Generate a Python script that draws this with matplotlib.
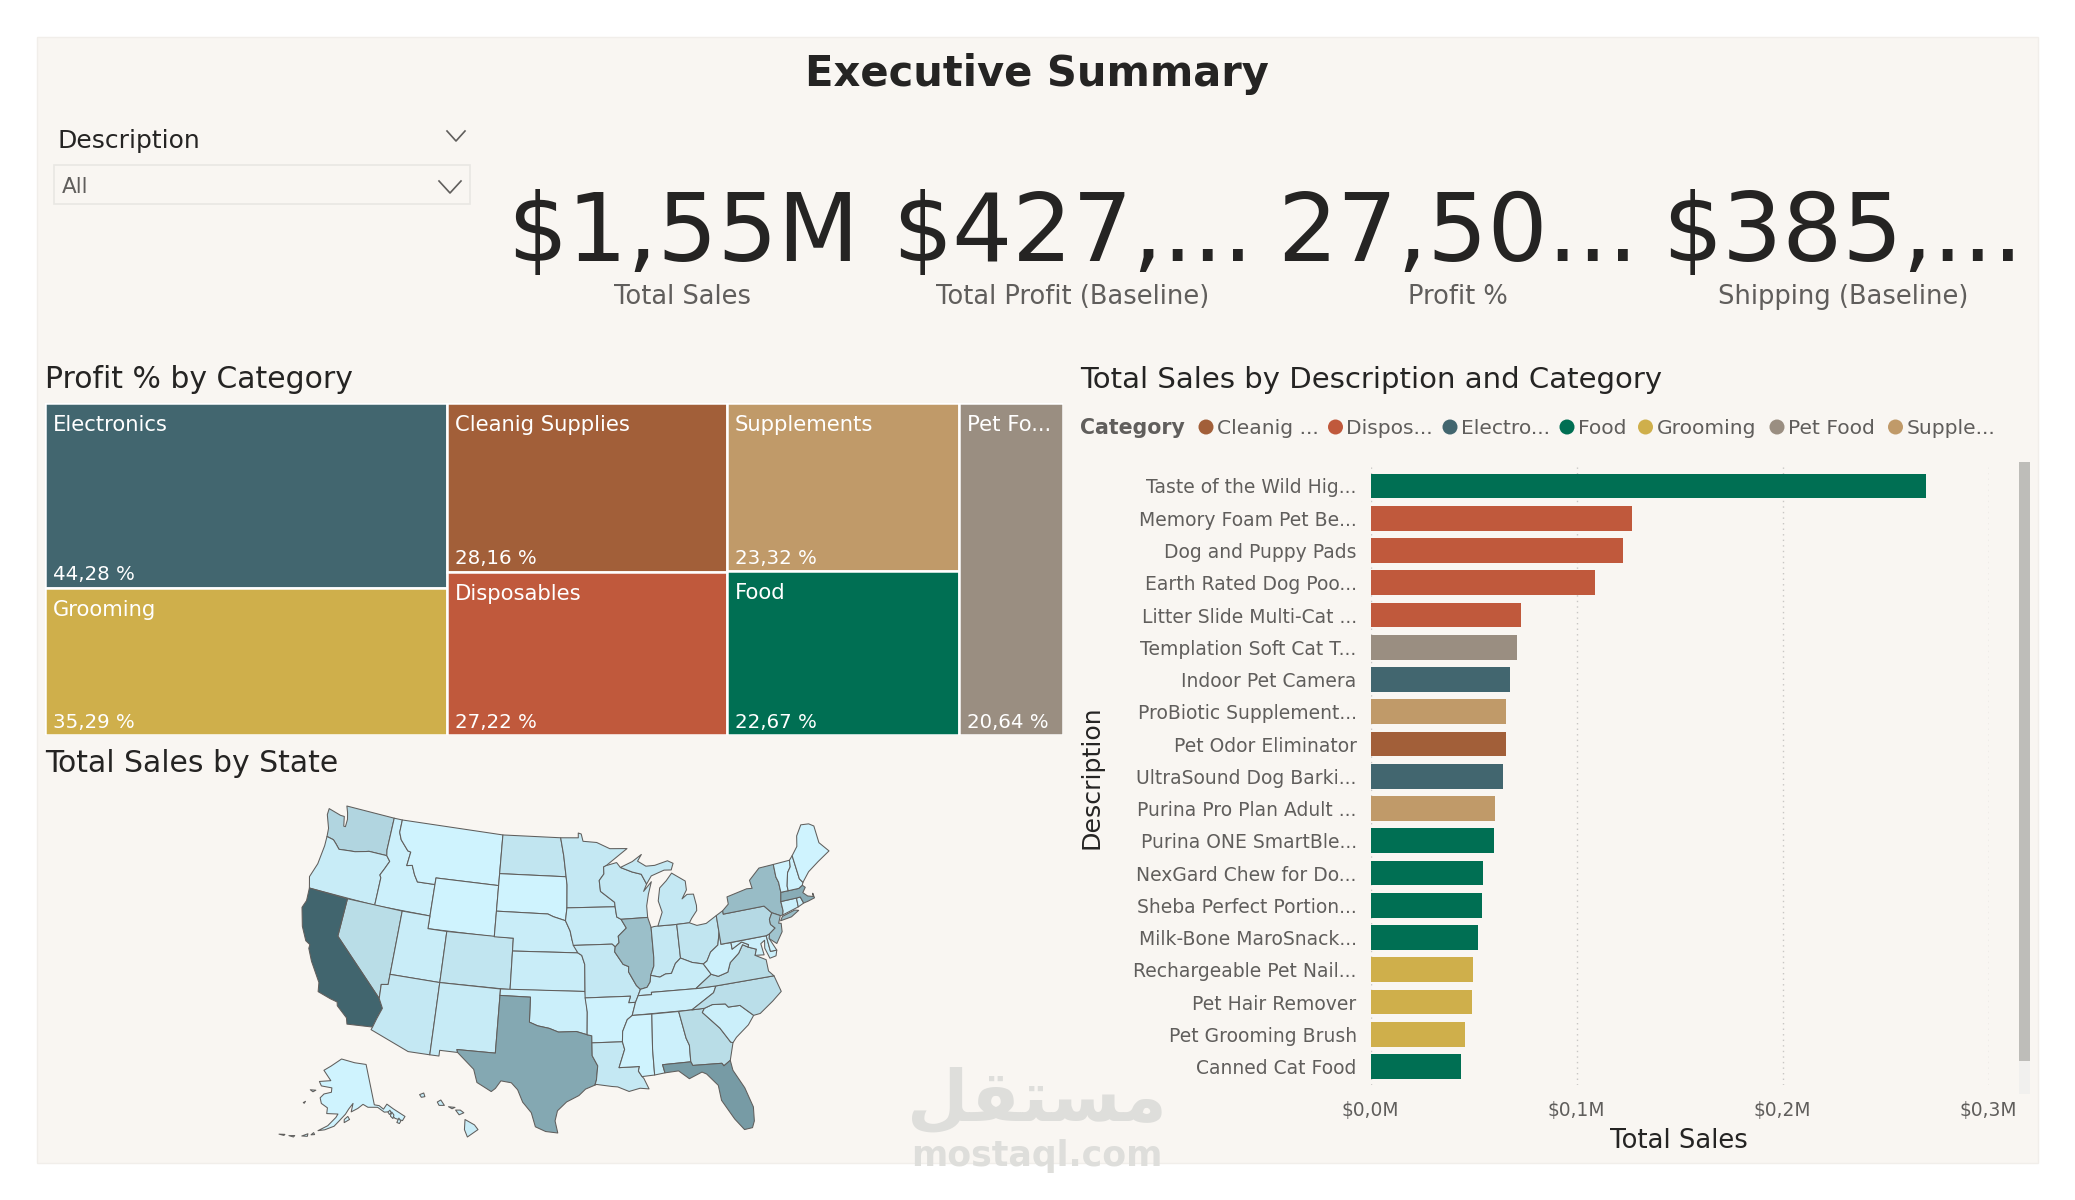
#!/usr/bin/env python3
# -*- coding: utf-8 -*-
"""
Executive summary dashboard: KPI cards, profit treemap, sales map and sales bars.
"""
import numpy as np
import matplotlib
matplotlib.use('Agg')
import matplotlib.pyplot as plt
from matplotlib.colors import LinearSegmentedColormap, Normalize
from matplotlib.patches import Circle, Polygon, Rectangle
from matplotlib.ticker import FuncFormatter

W, H = 2075, 1200

# KPI cards
kpi_values = ['$1,55M', '$427,...', '27,50...', '$385,...']
kpi_labels = ['Total Sales', 'Total Profit (Baseline)', 'Profit %', 'Shipping (Baseline)']

# categories and colours
category_colors = {
    'Electronics': '#42666F',
    'Cleanig Supplies': '#A25F39',
    'Supplements': '#C09A69',
    'Pet Food': '#9A8E81',
    'Grooming': '#CFAF4B',
    'Disposables': '#C0593C',
    'Food': '#006F53',
}
legend_labels = ['Cleanig ...', 'Dispos...', 'Electro...', 'Food', 'Grooming', 'Pet Food', 'Supple...']
legend_categories = ['Cleanig Supplies', 'Disposables', 'Electronics', 'Food', 'Grooming', 'Pet Food', 'Supplements']

# treemap, one list per column
tree_columns = [['Electronics', 'Grooming'], ['Cleanig Supplies', 'Disposables'], ['Supplements', 'Food'], ['Pet Food']]
tree_profit = {'Electronics': 44.28, 'Grooming': 35.29, 'Cleanig Supplies': 28.16, 'Disposables': 27.22,
               'Supplements': 23.32, 'Food': 22.67, 'Pet Food': 20.64}
tree_names = {'Pet Food': 'Pet Fo...'}

# bar chart
bar_labels = ['Taste of the Wild Hig...', 'Memory Foam Pet Be...', 'Dog and Puppy Pads', 'Earth Rated Dog Poo...',
              'Litter Slide Multi-Cat ...', 'Templation Soft Cat T...', 'Indoor Pet Camera', 'ProBiotic Supplement...',
              'Pet Odor Eliminator', 'UltraSound Dog Barki...', 'Purina Pro Plan Adult ...', 'Purina ONE SmartBle...',
              'NexGard Chew for Do...', 'Sheba Perfect Portion...', 'Milk-Bone MaroSnack...', 'Rechargeable Pet Nail...',
              'Pet Hair Remover', 'Pet Grooming Brush', 'Canned Cat Food']
bar_sales = [0.2696, 0.1269, 0.1225, 0.1090, 0.0731, 0.0711, 0.0675, 0.0656, 0.0656, 0.0643,
             0.0605, 0.0598, 0.0548, 0.0540, 0.0522, 0.0497, 0.0492, 0.0459, 0.0439]
bar_categories = ['Food', 'Disposables', 'Disposables', 'Disposables', 'Disposables', 'Pet Food', 'Electronics',
                  'Supplements', 'Cleanig Supplies', 'Electronics', 'Supplements', 'Food', 'Food', 'Food', 'Food',
                  'Grooming', 'Grooming', 'Grooming', 'Food']
sales_ticks = [0.0, 0.1, 0.2, 0.3]

# sales by state in thousands
state_sales = {
    'CA': 300, 'FL': 186, 'TX': 159, 'MA': 150, 'NY': 117, 'IL': 111, 'NJ': 100, 'WA': 63, 'PA': 54, 'NV': 48,
    'VA': 48, 'NC': 45, 'GA': 48, 'CO': 30, 'ND': 30, 'OH': 30, 'MI': 24, 'WI': 24, 'MN': 24, 'AZ': 24, 'IN': 24,
    'MO': 24, 'LA': 24, 'NM': 18, 'IA': 18, 'OR': 15, 'KY': 15, 'HI': 15, 'KS': 12, 'NE': 12, 'UT': 12, 'OK': 9,
    'TN': 9, 'SC': 9, 'CT': 9, 'MD': 9, 'ID': 6, 'AR': 3, 'AL': 6, 'WV': 6, 'RI': 6, 'NH': 3, 'DE': 3,
    'SD': 0, 'WY': 0, 'MT': 0, 'MS': 0, 'ME': 0, 'VT': 0, 'AK': 0,
}

# simplified state outlines as (lon, lat), one list per land mass
state_shapes = {
    'WA': [[(-124.7,48.4),(-123.2,48.15),(-122.75,48.15),(-122.5,47.4),(-122.3,47.4),(-122.3,48.0),(-122.5,48.5),(-122.8,49),(-117.03,49),(-117.04,46.42),(-116.92,45.99),(-118.98,46),(-119.3,45.93),(-120.5,45.7),(-121.2,45.65),(-122.3,45.55),(-122.8,45.9),(-123.2,46.15),(-124,46.25),(-124.1,46.9),(-124.7,47.9)]],
    'OR': [[(-124,46.25),(-123.2,46.15),(-122.8,45.9),(-122.3,45.55),(-121.2,45.65),(-120.5,45.7),(-119.3,45.93),(-118.98,46),(-116.92,45.99),(-116.46,45.6),(-116.85,44.95),(-117.2,44.4),(-117.03,44.2),(-117.03,42),(-124.2,42),(-124.55,42.85),(-124.1,44),(-123.95,45.5)]],
    'ID': [[(-117.03,49),(-116.05,49),(-116.05,48),(-115.7,47.45),(-114.7,46.7),(-114.35,46.65),(-114.5,45.55),(-113.9,45.65),(-113.45,44.95),(-113,44.45),(-111.05,44.48),(-111.05,42),(-117.03,42),(-117.03,44.2),(-117.2,44.4),(-116.85,44.95),(-116.46,45.6),(-116.92,45.99),(-117.04,46.42)]],
    'MT': [[(-116.05,49),(-104.05,49),(-104.05,45),(-111.05,45),(-111.05,44.48),(-113,44.45),(-113.45,44.95),(-113.9,45.65),(-114.5,45.55),(-114.35,46.65),(-114.7,46.7),(-115.7,47.45),(-116.05,48)]],
    'WY': [[(-111.05,45),(-104.05,45),(-104.05,41),(-111.05,41)]],
    'NV': [[(-120,42),(-114.04,42),(-114.04,36.2),(-114.7,36.1),(-114.63,35),(-120,39)]],
    'CA': [[(-124.2,42),(-120,42),(-120,39),(-114.63,35),(-114.15,34.3),(-114.5,33.4),(-114.72,32.72),(-117.12,32.53),(-117.3,33),(-118.4,33.75),(-118.5,34.03),(-119.2,34.15),(-120.5,34.45),(-120.65,35.15),(-121.9,36.6),(-122.5,37.5),(-122.5,37.8),(-123,38),(-123.75,39),(-124.35,40.4),(-124.1,41)]],
    'UT': [[(-114.04,42),(-111.05,42),(-111.05,41),(-109.05,41),(-109.05,37),(-114.04,37)]],
    'AZ': [[(-114.04,37),(-109.05,37),(-109.05,31.33),(-111.07,31.33),(-114.81,32.5),(-114.72,32.72),(-114.5,33.4),(-114.15,34.3),(-114.63,35),(-114.7,36.1),(-114.04,36.2)]],
    'CO': [[(-109.05,41),(-102.05,41),(-102.05,37),(-109.05,37)]],
    'NM': [[(-109.05,37),(-103,37),(-103.04,32),(-106.62,32),(-106.53,31.78),(-108.2,31.78),(-108.2,31.33),(-109.05,31.33)]],
    'ND': [[(-104.05,49),(-97.23,49),(-96.85,47.6),(-96.56,45.93),(-104.05,45.94)]],
    'SD': [[(-104.05,45.94),(-96.56,45.93),(-96.45,45.3),(-96.45,43.5),(-96.6,42.5),(-97.9,42.8),(-98.5,43),(-104.05,43)]],
    'NE': [[(-104.05,43),(-98.5,43),(-97.9,42.8),(-96.6,42.5),(-96.1,41.7),(-95.9,41),(-95.3,40),(-102.05,40),(-102.05,41),(-104.05,41)]],
    'KS': [[(-102.05,40),(-95.3,40),(-94.9,39.8),(-94.61,39.1),(-94.62,37),(-102.05,37)]],
    'OK': [[(-103,37),(-94.62,37),(-94.43,35.4),(-94.48,33.64),(-95.5,33.9),(-97.2,33.85),(-98.1,34.13),(-99.2,34.3),(-100,34.56),(-100,36.5),(-103,36.5)]],
    'TX': [[(-106.62,32),(-103.04,32),(-103,36.5),(-100,36.5),(-100,34.56),(-99.2,34.3),(-98.1,34.13),(-97.2,33.85),(-95.5,33.9),(-94.48,33.64),(-94.04,33.55),(-94.04,32),(-93.55,31.2),(-93.7,30.1),(-93.85,29.7),(-94.7,29.4),(-95.3,28.9),(-96.4,28.4),(-97.2,27.7),(-97.4,26.9),(-97.15,25.95),(-98.2,26.05),(-99.1,26.4),(-99.5,27.5),(-100.3,28.3),(-100.8,29.25),(-101.4,29.77),(-102.35,29.87),(-102.8,29.25),(-103.15,28.98),(-104.5,29.6),(-104.9,30.6),(-106.53,31.78)]],
    'MN': [[(-97.23,49),(-95.15,49),(-95.15,49.38),(-94.8,49.3),(-94.6,48.72),(-93,48.6),(-91.5,48.07),(-89.5,48),(-92,46.75),(-92.3,46.65),(-92.3,46.1),(-92.85,45.6),(-92.75,44.75),(-91.25,43.85),(-91.22,43.5),(-96.45,43.5),(-96.45,45.3),(-96.56,45.93),(-96.85,47.6)]],
    'IA': [[(-96.45,43.5),(-91.22,43.5),(-91.1,42.7),(-90.65,42.5),(-90.15,41.8),(-91.05,41.2),(-91,40.7),(-91.42,40.38),(-91.73,40.61),(-95.77,40.58),(-95.9,41),(-96.1,41.7),(-96.6,42.5)]],
    'MO': [[(-95.77,40.58),(-91.73,40.61),(-91.42,40.38),(-91.5,40),(-90.7,39),(-90.15,38.8),(-90.2,38.4),(-89.5,37.3),(-89.13,36.98),(-89.4,36.5),(-89.7,36),(-90.37,36),(-90.15,36.5),(-94.62,36.5),(-94.62,37),(-94.61,39.1),(-94.9,39.8),(-95.3,40)]],
    'AR': [[(-94.62,36.5),(-90.15,36.5),(-90.37,36),(-89.7,36),(-90.1,35),(-90.6,34.7),(-91.1,33.8),(-91.17,33),(-94.04,33),(-94.04,33.55),(-94.48,33.64),(-94.43,35.4)]],
    'LA': [[(-94.04,33),(-91.17,33),(-91,32.4),(-91.6,31),(-89.73,31),(-89.85,30.65),(-89.55,30.2),(-89.4,30.05),(-89,29.2),(-89.8,29.3),(-90.8,29.1),(-91.8,29.5),(-92.3,29.55),(-93.7,29.75),(-93.85,29.7),(-93.7,30.1),(-93.55,31.2),(-94.04,32)]],
    'WI': [[(-92,46.75),(-90.8,46.95),(-90.4,46.55),(-89.1,46.13),(-88.1,45.9),(-87.6,45.1),(-88,44.55),(-87.05,45.25),(-87.5,44.3),(-87.8,43.4),(-87.8,42.5),(-90.65,42.5),(-91.1,42.7),(-91.22,43.5),(-91.25,43.85),(-92.75,44.75),(-92.85,45.6),(-92.3,46.1),(-92.3,46.65)]],
    'IL': [[(-90.65,42.5),(-87.8,42.5),(-87.53,41.7),(-87.53,39.35),(-87.6,38.7),(-88,38),(-88.1,37.5),(-88.45,37.1),(-89.13,36.98),(-89.5,37.3),(-90.2,38.4),(-90.15,38.8),(-90.7,39),(-91.5,40),(-91.42,40.38),(-91,40.7),(-91.05,41.2),(-90.15,41.8)]],
    'IN': [[(-87.53,41.7),(-87.2,41.75),(-86.8,41.76),(-84.8,41.73),(-84.82,39.1),(-85.4,38.73),(-85.9,38),(-86.5,38),(-87.1,37.8),(-88,38),(-87.6,38.7),(-87.53,39.35)]],
    'MI': [[(-86.8,41.76),(-84.8,41.73),(-83.45,41.73),(-83.15,42.05),(-82.5,42.6),(-82.45,43),(-82.6,43.9),(-83.3,43.95),(-83.9,43.65),(-83.3,44.3),(-83.3,45),(-84.7,45.75),(-85.4,45.2),(-86.2,44.7),(-86.5,43.7),(-86.2,42.8)],
           [(-90.4,46.55),(-89.1,46.13),(-88.1,45.9),(-87.6,45.1),(-87,45.7),(-85.5,46.05),(-84.7,46),(-84.4,46.5),(-85,46.75),(-86.5,46.5),(-87.5,46.5),(-88.4,46.95),(-87.9,47.45),(-89,46.95)]],
    'OH': [[(-84.8,41.73),(-83.45,41.73),(-82.7,41.45),(-81.7,41.5),(-80.52,41.98),(-80.52,40.64),(-80.85,39.7),(-81.7,39.25),(-82.2,38.6),(-82.6,38.42),(-83.7,38.65),(-84.82,39.1)]],
    'KY': [[(-89.4,36.5),(-89.13,36.98),(-88.45,37.1),(-88.1,37.5),(-88,38),(-87.1,37.8),(-86.5,38),(-85.9,38),(-85.4,38.73),(-84.82,39.1),(-83.7,38.65),(-82.6,38.42),(-81.97,37.54),(-83.68,36.6),(-88.07,36.68),(-88.07,36.5)]],
    'TN': [[(-90.1,35),(-89.7,36),(-89.4,36.5),(-88.07,36.5),(-88.07,36.68),(-83.68,36.6),(-81.68,36.59),(-82,36.1),(-84.32,35)]],
    'MS': [[(-91.17,33),(-91.1,33.8),(-90.6,34.7),(-90.1,35),(-88.2,35),(-88.4,32.3),(-88.4,30.25),(-89.55,30.2),(-89.85,30.65),(-89.73,31),(-91.6,31),(-91,32.4)]],
    'AL': [[(-88.2,35),(-85.6,35),(-85.18,32.87),(-84.95,32.3),(-85,31),(-87.6,31),(-87.45,30.35),(-88.4,30.25),(-88.4,32.3)]],
    'GA': [[(-85.6,35),(-83.1,35),(-83.35,34.7),(-81.9,33.3),(-81.1,32.1),(-80.9,32.03),(-81.4,30.7),(-82.05,30.35),(-82.2,30.57),(-84.86,30.7),(-85,31),(-84.95,32.3),(-85.18,32.87)]],
    'FL': [[(-87.6,31),(-85,31),(-84.86,30.7),(-82.2,30.57),(-82.05,30.35),(-81.4,30.7),(-81.3,29.9),(-80.5,28.4),(-80.03,26.8),(-80.15,25.7),(-80.4,25.2),(-81.1,25.15),(-81.8,26.1),(-82.7,27.7),(-82.8,28.9),(-83.7,29.9),(-84.1,30.1),(-85.3,29.7),(-86.2,30.4),(-87.45,30.35)]],
    'SC': [[(-83.1,35),(-82.3,35.2),(-81.05,35.1),(-80.8,34.82),(-79.67,34.8),(-78.55,33.85),(-79.2,33.2),(-80.5,32.4),(-80.9,32.03),(-81.1,32.1),(-81.9,33.3),(-83.35,34.7)]],
    'NC': [[(-84.32,35),(-82,36.1),(-81.68,36.59),(-75.87,36.55),(-75.5,35.25),(-76.5,34.65),(-77.9,33.9),(-78.55,33.85),(-79.67,34.8),(-80.8,34.82),(-81.05,35.1),(-82.3,35.2),(-83.1,35)]],
    'VA': [[(-83.68,36.6),(-81.97,37.54),(-81.3,37.3),(-80.3,37.5),(-79.9,38.2),(-78.9,38.8),(-78.35,39.4),(-77.83,39.13),(-77.05,38.85),(-77.3,38.4),(-76.3,37.9),(-76.3,37),(-75.87,36.55),(-81.68,36.59)]],
    'WV': [[(-81.97,37.54),(-82.6,38.42),(-82.2,38.6),(-81.7,39.25),(-80.85,39.7),(-80.52,40.64),(-80.52,39.72),(-79.48,39.72),(-79.48,39.2),(-78.4,39.62),(-77.75,39.32),(-77.83,39.13),(-78.35,39.4),(-78.9,38.8),(-79.9,38.2),(-80.3,37.5),(-81.3,37.3)]],
    'MD': [[(-79.48,39.72),(-75.79,39.72),(-75.7,38.46),(-75.05,38.45),(-75.25,38.03),(-75.9,37.95),(-76.2,38.8),(-76.05,39.4),(-76.5,39.2),(-76.4,38.3),(-77.3,38.4),(-77.05,38.85),(-77.83,39.13),(-77.75,39.32),(-78.4,39.62),(-79.48,39.2)]],
    'DE': [[(-75.79,39.72),(-75.42,39.8),(-75.55,39.45),(-75.05,38.45),(-75.7,38.46)]],
    'PA': [[(-80.52,41.98),(-79.76,42.27),(-79.76,42),(-75.35,42),(-74.7,41.36),(-75.1,40.9),(-75.1,40.5),(-74.72,40.15),(-75.42,39.8),(-75.79,39.72),(-80.52,39.72)]],
    'NY': [[(-79.76,42.27),(-79.05,42.7),(-79.05,43.27),(-76.8,43.6),(-76.2,43.55),(-76.3,44.2),(-75,44.98),(-73.35,45),(-73.4,44),(-73.25,43.55),(-73.27,42.75),(-73.5,42.05),(-73.5,41.3),(-73.65,41),(-73.9,41),(-74.7,41.36),(-75.35,42),(-79.76,42)],
           [(-74,40.6),(-73.7,40.9),(-72.3,41.15),(-71.9,41.05),(-72.8,40.7)]],
    'NJ': [[(-74.7,41.36),(-73.9,41),(-74.25,40.45),(-74,40.4),(-74.1,39.75),(-74.9,38.95),(-75.55,39.45),(-75.42,39.8),(-74.72,40.15),(-75.1,40.5),(-75.1,40.9)]],
    'CT': [[(-73.5,42.05),(-71.8,42.02),(-71.85,41.32),(-73.65,41),(-73.5,41.3)]],
    'RI': [[(-71.8,42.02),(-71.38,42.02),(-71.2,41.5),(-71.85,41.32)]],
    'MA': [[(-73.27,42.75),(-71.3,42.7),(-70.85,42.87),(-70.6,42.65),(-71,42.3),(-70.6,41.95),(-70.05,41.8),(-70,42.05),(-69.95,41.67),(-70.7,41.55),(-71.2,41.5),(-71.38,42.02),(-71.8,42.02),(-73.5,42.05)]],
    'VT': [[(-73.35,45),(-71.5,45.01),(-71.6,44.5),(-72.05,44.1),(-72.45,43.1),(-72.46,42.73),(-73.27,42.75),(-73.25,43.55),(-73.4,44)]],
    'NH': [[(-71.5,45.01),(-71.08,45.3),(-70.97,43.4),(-70.7,43.07),(-70.85,42.87),(-71.3,42.7),(-72.46,42.73),(-72.45,43.1),(-72.05,44.1),(-71.6,44.5)]],
    'ME': [[(-71.08,45.3),(-70.3,45.9),(-70,46.7),(-69.2,47.45),(-68.3,47.35),(-67.8,47.07),(-67.8,45.7),(-67,44.85),(-68.5,44.3),(-69.8,43.75),(-70.7,43.07),(-70.97,43.4)]],
}
alaska_shapes = [
    [(-141,69.65),(-141,60.3),(-139,59.9),(-137.5,58.9),(-135.5,59.8),(-133.5,58.4),(-130,55.9),(-131.5,55.2),(-134,56.2),(-135.5,58),(-137.5,58.2),(-139.8,59.6),(-144,60),(-146,60.8),(-148.5,60),(-151.5,59.3),(-150.5,61.2),(-152.5,60),(-154,58.8),(-156.5,57.3),(-158.5,56),(-162,55),(-164.5,54.6),(-161,56),(-158,58),(-157.2,58.8),(-162,58.7),(-162,60),(-165,60.8),(-166,62),(-164.5,63),(-161,63.6),(-161,64.6),(-166.5,64.7),(-168,65.6),(-162,66.2),(-166.8,68.3),(-163,69.5),(-156.6,71.35),(-148,70.4)],
    [(-154.5,56.9),(-152.3,57.6),(-153,58.3),(-154.5,57.6)],
    [(-135.5,57),(-134.5,57.8),(-134,57),(-134.8,56.3)],
    [(-133.8,55.2),(-132.5,56),(-132.2,55.2),(-133,54.8)],
    [(-136,58),(-135,58.3),(-134.8,57.6),(-135.7,57.4)],
    [(-166.8,53.4),(-166,54),(-165.5,53.6)],
    [(-170,52.7),(-168,53.5),(-168,52.9)],
    [(-174.5,52),(-172.5,52.4),(-172.8,52)],
    [(-178,51.6),(-176,52),(-176.2,51.7)],
    [(-173,60.1),(-172.2,60.5),(-172.5,60)],
    [(-171.5,63.3),(-168.8,63.5),(-170,63)],
]
hawaii_shapes = [
    [(-155.9,20.25),(-155.1,19.85),(-154.8,19.5),(-155.7,18.95),(-155.95,19.5)],
    [(-156.7,20.95),(-156.3,20.95),(-156,20.75),(-156.4,20.6)],
    [(-157.3,21.2),(-156.75,21.15),(-157,21.05)],
    [(-158.25,21.55),(-157.95,21.7),(-157.65,21.3),(-158.1,21.3)],
    [(-159.75,22.1),(-159.4,22.22),(-159.3,21.95),(-159.6,21.9)],
]

grey_text = '#605E5C'
dark_text = '#252423'
panel_bg = '#F9F6F2'
low_state = '#CFF3FE'
high_state = '#41656E'
outline = '#605E5C'


def px_axes(x0, y0, x1, y1):
    # axes placed by its pixel box, y counted from the top
    return fig.add_axes([x0 / W, 1 - y1 / H, (x1 - x0) / W, (y1 - y0) / H])


def put_text(x, y, s, **kw):
    kw.setdefault('va', 'center')
    kw.setdefault('color', dark_text)
    fig.text(x / W, 1 - y / H, s, **kw)


def chevron(x, y, half, rise, color='#605E5C'):
    page.plot([x - half, x, x + half], [y - rise, y + rise, y - rise], color=color, lw=1.2)


def albers(lon, lat, lat1, lat2, lon0, lat0):
    # Albers equal-area conic
    lon, lat = np.radians(lon), np.radians(lat)
    p1, p2, l0, p0 = np.radians([lat1, lat2, lon0, lat0])
    n = (np.sin(p1) + np.sin(p2)) / 2
    c = np.cos(p1) ** 2 + 2 * n * np.sin(p1)
    rho = np.sqrt(c - 2 * n * np.sin(lat)) / n
    rho0 = np.sqrt(c - 2 * n * np.sin(p0)) / n
    theta = n * (lon - l0)
    return rho * np.sin(theta), rho0 - rho * np.cos(theta)


fig = plt.figure(figsize=(W / 100, H / 100), dpi=100, facecolor='white')

# page background and slicer
page = fig.add_axes([0, 0, 1, 1])
page.set_xlim(0, W)
page.set_ylim(H, 0)
page.axis('off')
page.add_patch(Rectangle((37, 37), 2001, 1126, facecolor=panel_bg, edgecolor='#F1EEEA', lw=1))
page.add_patch(Rectangle((53.5, 164.5), 416, 39, facecolor=panel_bg, edgecolor='#E9E7E3', lw=1.2))
chevron(456, 136, 9, 5)
chevron(450, 187, 11, 6)

put_text(1037, 74, 'Executive Summary', fontsize=30, fontweight='bold', ha='center')
put_text(57, 141, 'Description', fontsize=18, ha='left')
put_text(62, 187, 'All', fontsize=15.5, ha='left', color=grey_text)

# KPI cards
kpi_x = [683, 1073, 1458, 1843]
for x, val, lab in zip(kpi_x, kpi_values, kpi_labels):
    put_text(x, 235, val, fontsize=68, ha='center')
    put_text(x, 297, lab, fontsize=18.5, ha='center', color=grey_text)

# section titles
put_text(45, 380, 'Profit % by Category', fontsize=21.5, ha='left')
put_text(45, 764, 'Total Sales by State', fontsize=21.5, ha='left')
put_text(1080, 380, 'Total Sales by Description and Category', fontsize=21, ha='left')

# treemap, column widths and cell heights follow the profit values
ax = px_axes(45, 403, 1063, 735)
total = sum(tree_profit.values())
ax.set_xlim(0, total)
ax.set_ylim(1, 0)
ax.axis('off')
left = 0
for col in tree_columns:
    col_total = sum(tree_profit[c] for c in col)
    top = 0
    for name in col:
        frac = tree_profit[name] / col_total
        ax.add_patch(Rectangle((left, top), col_total, frac, facecolor=category_colors[name],
                               edgecolor='white', lw=1.8))
        ax.annotate(tree_names.get(name, name), (left, top), xytext=(8, -22), textcoords='offset pixels',
                    color='white', fontsize=15.2, va='center', ha='left')
        value_text = ('%.2f %%' % tree_profit[name]).replace('.', ',')
        ax.annotate(value_text, (left, top + frac), xytext=(8, 13), textcoords='offset pixels',
                    color='white', fontsize=14.2, va='center', ha='left')
        top += frac
    left += col_total

# legend
put_text(1080, 428, 'Category', fontsize=14.8, fontweight='bold', ha='left', color=grey_text)
legend_dots = [1206, 1335.5, 1450, 1567, 1645.5, 1777, 1895.5]
for x, lab, cat in zip(legend_dots, legend_labels, legend_categories):
    page.add_patch(Circle((x, 427), 7.5, facecolor=category_colors[cat], edgecolor='none'))
    put_text(x + 11, 428, lab, fontsize=14.6, ha='left', color=grey_text)

# horizontal bars
ax = px_axes(1370.6, 467, 1988.6, 1085)
ax.set_facecolor('none')
ax.barh(range(len(bar_sales)), bar_sales, height=0.766, color=[category_colors[c] for c in bar_categories], zorder=2)
ax.set_xlim(0, 0.3)
ax.set_ylim(18.57, -0.589)
ax.set_yticks(range(len(bar_labels)))
ax.set_yticklabels(bar_labels, fontsize=13.5, color=grey_text)
ax.set_xticks(sales_ticks)
ax.xaxis.set_major_formatter(FuncFormatter(lambda v, pos: ('$%.1fM' % v).replace('.', ',')))
ax.tick_params(axis='x', length=0, pad=11.5, labelsize=13.4, labelcolor=grey_text)
ax.tick_params(axis='y', length=0, pad=10)
ax.grid(axis='x', color='#C8C6C4', lw=1, ls=(0, (1, 3)), zorder=1)
ax.set_axisbelow(True)
for side in ax.spines.values():
    side.set_visible(False)
ax.set_xlabel('Total Sales', fontsize=18.6, color=dark_text)
ax.xaxis.set_label_coords(0.4985, -0.07)
ax.set_ylabel('Description', fontsize=18.2, color=dark_text)
ax.yaxis.set_label_coords(-0.432, 0.498)

# scroll bar next to the bars
page.add_patch(Rectangle((2019, 1061), 11, 33, facecolor='#F1F0EE', edgecolor='none'))
page.add_patch(Rectangle((2019, 462), 11, 599, facecolor='#BEBDB9', edgecolor='none'))

# state map
state_cmap = LinearSegmentedColormap.from_list('sales', [low_state, high_state])
state_norm = Normalize(0, max(state_sales.values()))


def draw_shapes(axes, shapes, value, project=None):
    color = state_cmap(state_norm(value))
    for shape in shapes:
        pts = np.array(shape)
        if project is not None:
            pts = np.column_stack(project(pts[:, 0], pts[:, 1]))
        axes.add_patch(Polygon(pts, closed=True, facecolor=color, edgecolor=outline, lw=0.75, joinstyle='round'))


def lower48(lon, lat):
    return albers(lon, lat, 29.5, 45.5, -96, 37.5)


ax = px_axes(302, 806, 829, 1133)
all_pts = np.array([p for shapes in state_shapes.values() for s in shapes for p in s])
px, py = lower48(all_pts[:, 0], all_pts[:, 1])
ax.set_xlim(px.min(), px.max())
ax.set_ylim(py.min(), py.max())
ax.axis('off')
for code, shapes in state_shapes.items():
    draw_shapes(ax, shapes, state_sales[code], lower48)
for patch in ax.patches:
    patch.set_clip_on(False)


def alaska(lon, lat):
    return albers(lon, lat, 55, 65, -154, 50)


ax = px_axes(279, 1059, 405, 1137)
all_pts = np.array([p for s in alaska_shapes for p in s])
px, py = alaska(all_pts[:, 0], all_pts[:, 1])
ax.set_xlim(px.min(), px.max())
ax.set_ylim(py.min(), py.max())
ax.axis('off')
draw_shapes(ax, alaska_shapes, state_sales['AK'], alaska)
for patch in ax.patches:
    patch.set_clip_on(False)

ax = px_axes(419, 1093, 478, 1137)
ax.set_xlim(-159.8, -154.8)
ax.set_ylim(18.95, 22.22)
ax.axis('off')
draw_shapes(ax, hawaii_shapes, state_sales['HI'])
for patch in ax.patches:
    patch.set_clip_on(False)

# site mark in the lower middle
mark_arabic = '\ufede\ufed8\ufe98\ufeb4\ufee3'
put_text(1037, 1102, mark_arabic, fontsize=51, fontweight='bold', ha='center', color='#DEDEDB', zorder=5)
put_text(1037, 1156, 'mostaql.com', fontsize=25, fontweight='bold', ha='center', color='#DEDEDB', zorder=5)

plt.savefig('out.png', dpi=100, facecolor='white')
